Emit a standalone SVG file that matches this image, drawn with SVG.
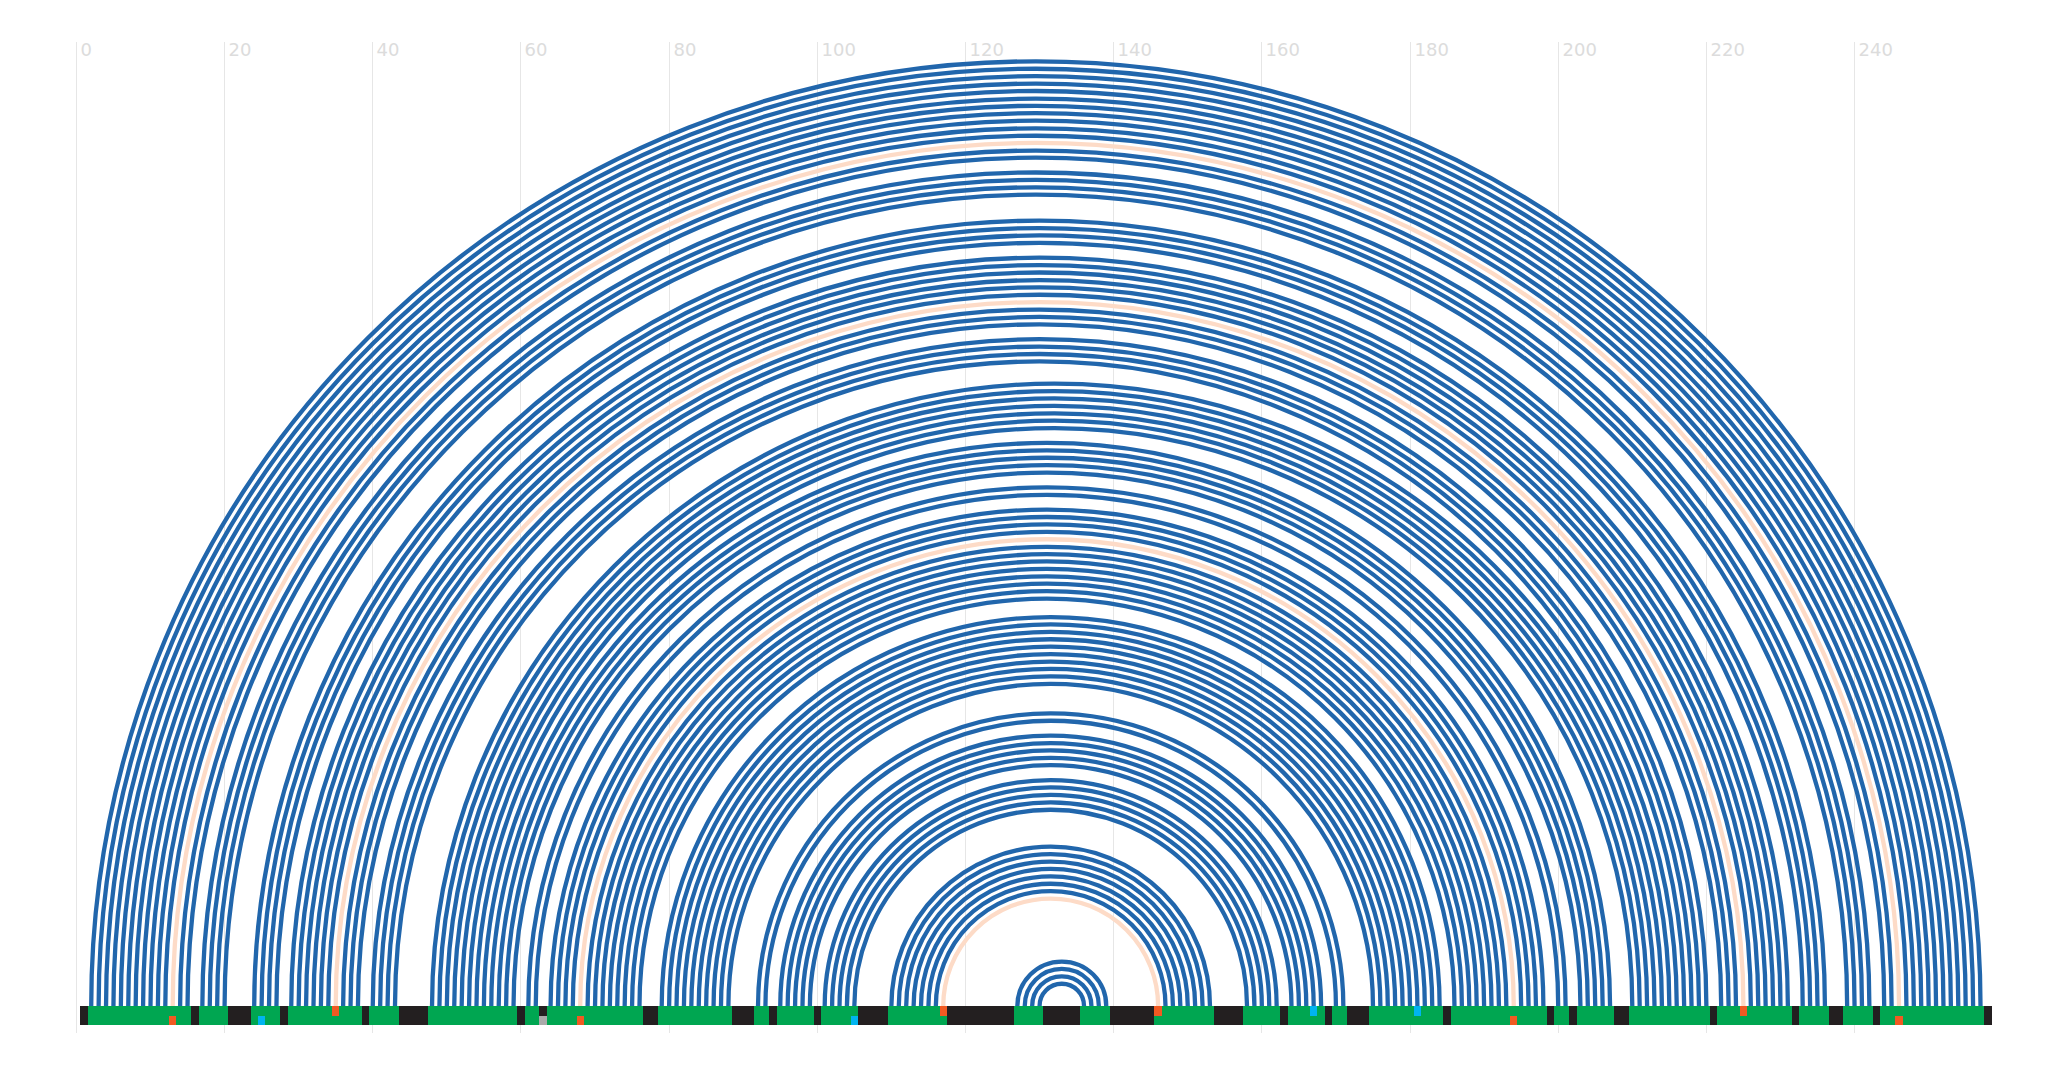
<svg xmlns="http://www.w3.org/2000/svg" width="2064" height="1072" viewBox="0 0 2064 1072">
<style>
.grid line{stroke:#e6e6e6;stroke-width:1}
.grid text{font-family:"DejaVu Sans",sans-serif;font-size:18px;fill:#dcdcdc}
.arc{fill:none;stroke:#2166ac;stroke-width:0.58}
.arc.gu{stroke:#fddbc7}
.unp{fill:#231f20}
.pr{fill:#00a651}
.or{fill:#f15a22}
.cy{fill:#00b4f0}
.gy{fill:#aaaaaa}
</style>
<rect width="2064" height="1072" fill="#ffffff"/>
<g id="grid" class="grid">
<line x1="76.5" y1="42" x2="76.5" y2="1033"/><text x="80.5" y="56">0</text>
<line x1="224.5" y1="42" x2="224.5" y2="1033"/><text x="228.5" y="56">20</text>
<line x1="372.5" y1="42" x2="372.5" y2="1033"/><text x="376.5" y="56">40</text>
<line x1="520.5" y1="42" x2="520.5" y2="1033"/><text x="524.5" y="56">60</text>
<line x1="669.5" y1="42" x2="669.5" y2="1033"/><text x="673.5" y="56">80</text>
<line x1="817.5" y1="42" x2="817.5" y2="1033"/><text x="821.5" y="56">100</text>
<line x1="965.5" y1="42" x2="965.5" y2="1033"/><text x="969.5" y="56">120</text>
<line x1="1113.5" y1="42" x2="1113.5" y2="1033"/><text x="1117.5" y="56">140</text>
<line x1="1261.5" y1="42" x2="1261.5" y2="1033"/><text x="1265.5" y="56">160</text>
<line x1="1410.5" y1="42" x2="1410.5" y2="1033"/><text x="1414.5" y="56">180</text>
<line x1="1558.5" y1="42" x2="1558.5" y2="1033"/><text x="1562.5" y="56">200</text>
<line x1="1706.5" y1="42" x2="1706.5" y2="1033"/><text x="1710.5" y="56">220</text>
<line x1="1854.5" y1="42" x2="1854.5" y2="1033"/><text x="1858.5" y="56">240</text>
</g>
<g id="connectors" transform="translate(76.4,1006) scale(7.409)">
<path class="arc" d="M2 0A127.5 127.5 0 0 1 257 0"/>
<path class="arc" d="M3 0A126.5 126.5 0 0 1 256 0"/>
<path class="arc" d="M4 0A125.5 125.5 0 0 1 255 0"/>
<path class="arc" d="M5 0A124.5 124.5 0 0 1 254 0"/>
<path class="arc" d="M6 0A123.5 123.5 0 0 1 253 0"/>
<path class="arc" d="M7 0A122.5 122.5 0 0 1 252 0"/>
<path class="arc" d="M8 0A121.5 121.5 0 0 1 251 0"/>
<path class="arc" d="M9 0A120.5 120.5 0 0 1 250 0"/>
<path class="arc" d="M10 0A119.5 119.5 0 0 1 249 0"/>
<path class="arc" d="M11 0A118.5 118.5 0 0 1 248 0"/>
<path class="arc" d="M12 0A117.5 117.5 0 0 1 247 0"/>
<path class="arc gu" d="M13 0A116.5 116.5 0 0 1 246 0"/>
<path class="arc" d="M14 0A115.5 115.5 0 0 1 245 0"/>
<path class="arc" d="M15 0A114.5 114.5 0 0 1 244 0"/>
<path class="arc" d="M17 0A112.5 112.5 0 0 1 242 0"/>
<path class="arc" d="M18 0A111.5 111.5 0 0 1 241 0"/>
<path class="arc" d="M19 0A110.5 110.5 0 0 1 240 0"/>
<path class="arc" d="M20 0A109.5 109.5 0 0 1 239 0"/>
<path class="arc" d="M24 0A106 106 0 0 1 236 0"/>
<path class="arc" d="M25 0A105 105 0 0 1 235 0"/>
<path class="arc" d="M26 0A104 104 0 0 1 234 0"/>
<path class="arc" d="M27 0A103 103 0 0 1 233 0"/>
<path class="arc" d="M29 0A101 101 0 0 1 231 0"/>
<path class="arc" d="M30 0A100 100 0 0 1 230 0"/>
<path class="arc" d="M31 0A99 99 0 0 1 229 0"/>
<path class="arc" d="M32 0A98 98 0 0 1 228 0"/>
<path class="arc" d="M33 0A97 97 0 0 1 227 0"/>
<path class="arc" d="M34 0A96 96 0 0 1 226 0"/>
<path class="arc gu" d="M35 0A95 95 0 0 1 225 0"/>
<path class="arc" d="M36 0A94 94 0 0 1 224 0"/>
<path class="arc" d="M37 0A93 93 0 0 1 223 0"/>
<path class="arc" d="M38 0A92 92 0 0 1 222 0"/>
<path class="arc" d="M40 0A90 90 0 0 1 220 0"/>
<path class="arc" d="M41 0A89 89 0 0 1 219 0"/>
<path class="arc" d="M42 0A88 88 0 0 1 218 0"/>
<path class="arc" d="M43 0A87 87 0 0 1 217 0"/>
<path class="arc" d="M48 0A84 84 0 0 1 216 0"/>
<path class="arc" d="M49 0A83 83 0 0 1 215 0"/>
<path class="arc" d="M50 0A82 82 0 0 1 214 0"/>
<path class="arc" d="M51 0A81 81 0 0 1 213 0"/>
<path class="arc" d="M52 0A80 80 0 0 1 212 0"/>
<path class="arc" d="M53 0A79 79 0 0 1 211 0"/>
<path class="arc" d="M54 0A78 78 0 0 1 210 0"/>
<path class="arc" d="M55 0A76 76 0 0 1 207 0"/>
<path class="arc" d="M56 0A75 75 0 0 1 206 0"/>
<path class="arc" d="M57 0A74 74 0 0 1 205 0"/>
<path class="arc" d="M58 0A73 73 0 0 1 204 0"/>
<path class="arc" d="M59 0A72 72 0 0 1 203 0"/>
<path class="arc" d="M61 0A70 70 0 0 1 201 0"/>
<path class="arc" d="M62 0A69 69 0 0 1 200 0"/>
<path class="arc" d="M64 0A67 67 0 0 1 198 0"/>
<path class="arc" d="M65 0A66 66 0 0 1 197 0"/>
<path class="arc" d="M66 0A65 65 0 0 1 196 0"/>
<path class="arc" d="M67 0A64 64 0 0 1 195 0"/>
<path class="arc gu" d="M68 0A63 63 0 0 1 194 0"/>
<path class="arc" d="M69 0A62 62 0 0 1 193 0"/>
<path class="arc" d="M70 0A61 61 0 0 1 192 0"/>
<path class="arc" d="M71 0A60 60 0 0 1 191 0"/>
<path class="arc" d="M72 0A59 59 0 0 1 190 0"/>
<path class="arc" d="M73 0A58 58 0 0 1 189 0"/>
<path class="arc" d="M74 0A57 57 0 0 1 188 0"/>
<path class="arc" d="M75 0A56 56 0 0 1 187 0"/>
<path class="arc" d="M76 0A55 55 0 0 1 186 0"/>
<path class="arc" d="M79 0A52.5 52.5 0 0 1 184 0"/>
<path class="arc" d="M80 0A51.5 51.5 0 0 1 183 0"/>
<path class="arc" d="M81 0A50.5 50.5 0 0 1 182 0"/>
<path class="arc" d="M82 0A49.5 49.5 0 0 1 181 0"/>
<path class="arc" d="M83 0A48.5 48.5 0 0 1 180 0"/>
<path class="arc" d="M84 0A47.5 47.5 0 0 1 179 0"/>
<path class="arc" d="M85 0A46.5 46.5 0 0 1 178 0"/>
<path class="arc" d="M86 0A45.5 45.5 0 0 1 177 0"/>
<path class="arc" d="M87 0A44.5 44.5 0 0 1 176 0"/>
<path class="arc" d="M88 0A43.5 43.5 0 0 1 175 0"/>
<path class="arc" d="M92 0A39.5 39.5 0 0 1 171 0"/>
<path class="arc" d="M93 0A38.5 38.5 0 0 1 170 0"/>
<path class="arc" d="M95 0A36.5 36.5 0 0 1 168 0"/>
<path class="arc" d="M96 0A35.5 35.5 0 0 1 167 0"/>
<path class="arc" d="M97 0A34.5 34.5 0 0 1 166 0"/>
<path class="arc" d="M98 0A33.5 33.5 0 0 1 165 0"/>
<path class="arc" d="M99 0A32.5 32.5 0 0 1 164 0"/>
<path class="arc" d="M101 0A30.5 30.5 0 0 1 162 0"/>
<path class="arc" d="M102 0A29.5 29.5 0 0 1 161 0"/>
<path class="arc" d="M103 0A28.5 28.5 0 0 1 160 0"/>
<path class="arc" d="M104 0A27.5 27.5 0 0 1 159 0"/>
<path class="arc" d="M105 0A26.5 26.5 0 0 1 158 0"/>
<path class="arc" d="M110 0A21.5 21.5 0 0 1 153 0"/>
<path class="arc" d="M111 0A20.5 20.5 0 0 1 152 0"/>
<path class="arc" d="M112 0A19.5 19.5 0 0 1 151 0"/>
<path class="arc" d="M113 0A18.5 18.5 0 0 1 150 0"/>
<path class="arc" d="M114 0A17.5 17.5 0 0 1 149 0"/>
<path class="arc" d="M115 0A16.5 16.5 0 0 1 148 0"/>
<path class="arc" d="M116 0A15.5 15.5 0 0 1 147 0"/>
<path class="arc gu" d="M117 0A14.5 14.5 0 0 1 146 0"/>
<path class="arc" d="M127 0A6 6 0 0 1 139 0"/>
<path class="arc" d="M128 0A5 5 0 0 1 138 0"/>
<path class="arc" d="M129 0A4 4 0 0 1 137 0"/>
<path class="arc" d="M130 0A3 3 0 0 1 136 0"/>
</g>
<g id="sequence" transform="translate(76.4,1006) scale(7.409,1)" shape-rendering="crispEdges">
<rect id="backbone" class="unp" x="0.5" y="0" width="258" height="19"/>
<g id="paired">
<rect class="pr" x="1.5" y="0" width="14" height="19"/>
<rect class="pr" x="16.5" y="0" width="4" height="19"/>
<rect class="pr" x="23.5" y="0" width="4" height="19"/>
<rect class="pr" x="28.5" y="0" width="10" height="19"/>
<rect class="pr" x="39.5" y="0" width="4" height="19"/>
<rect class="pr" x="47.5" y="0" width="12" height="19"/>
<rect class="pr" x="60.5" y="0" width="2" height="19"/>
<rect class="pr" x="63.5" y="0" width="13" height="19"/>
<rect class="pr" x="78.5" y="0" width="10" height="19"/>
<rect class="pr" x="91.5" y="0" width="2" height="19"/>
<rect class="pr" x="94.5" y="0" width="5" height="19"/>
<rect class="pr" x="100.5" y="0" width="5" height="19"/>
<rect class="pr" x="109.5" y="0" width="8" height="19"/>
<rect class="pr" x="126.5" y="0" width="4" height="19"/>
<rect class="pr" x="135.5" y="0" width="4" height="19"/>
<rect class="pr" x="145.5" y="0" width="8" height="19"/>
<rect class="pr" x="157.5" y="0" width="5" height="19"/>
<rect class="pr" x="163.5" y="0" width="5" height="19"/>
<rect class="pr" x="169.5" y="0" width="2" height="19"/>
<rect class="pr" x="174.5" y="0" width="10" height="19"/>
<rect class="pr" x="185.5" y="0" width="13" height="19"/>
<rect class="pr" x="199.5" y="0" width="2" height="19"/>
<rect class="pr" x="202.5" y="0" width="5" height="19"/>
<rect class="pr" x="209.5" y="0" width="11" height="19"/>
<rect class="pr" x="221.5" y="0" width="10" height="19"/>
<rect class="pr" x="232.5" y="0" width="4" height="19"/>
<rect class="pr" x="238.5" y="0" width="4" height="19"/>
<rect class="pr" x="243.5" y="0" width="14" height="19"/>
</g>
<g id="markers">
<rect class="or" x="12.5" y="9.5" width="1" height="9.5"/>
<rect class="cy" x="24.5" y="9.5" width="1" height="9.5"/>
<rect class="or" x="34.5" y="0" width="1" height="9.5"/>
<rect class="gy" x="62.5" y="9.5" width="1" height="9.5"/>
<rect class="or" x="67.5" y="9.5" width="1" height="9.5"/>
<rect class="cy" x="104.5" y="9.5" width="1" height="9.5"/>
<rect class="or" x="116.5" y="0" width="1" height="9.5"/>
<rect class="or" x="145.5" y="0" width="1" height="9.5"/>
<rect class="cy" x="166.5" y="0" width="1" height="9.5"/>
<rect class="cy" x="180.5" y="0" width="1" height="9.5"/>
<rect class="or" x="193.5" y="9.5" width="1" height="9.5"/>
<rect class="or" x="224.5" y="0" width="1" height="9.5"/>
<rect class="or" x="245.5" y="9.5" width="1" height="9.5"/>
</g>
</g>
</svg>
